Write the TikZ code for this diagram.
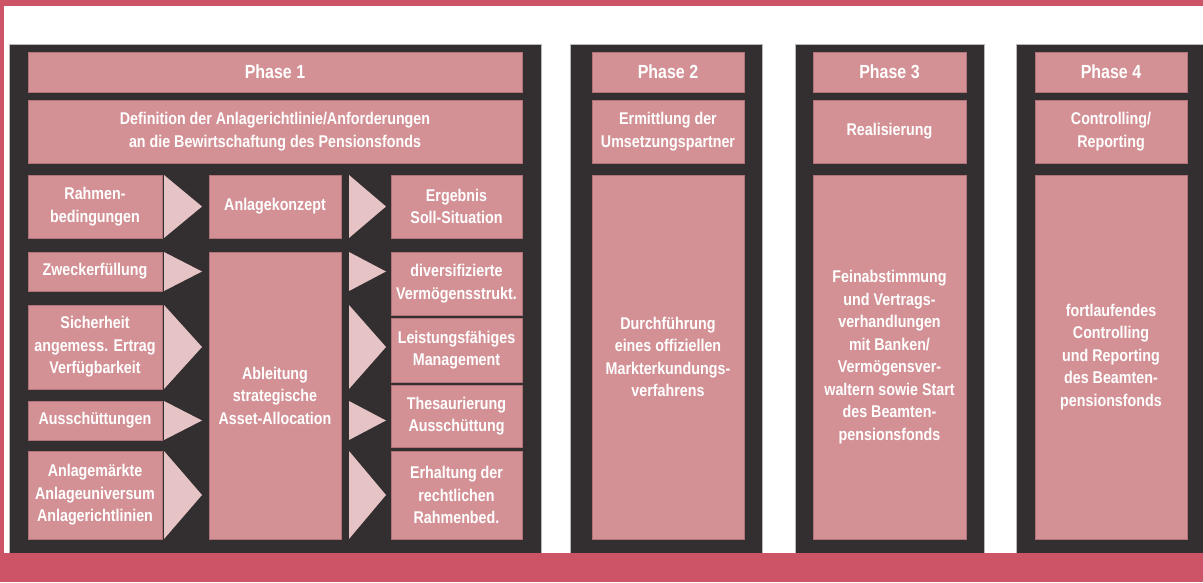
\documentclass[tikz,border=0pt]{standalone}
\usepackage{fontspec}
\setmainfont{Liberation Sans}[FakeStretch=0.84]
\usetikzlibrary{calc}
\definecolor{band}{HTML}{CD5366}
\definecolor{panelgrey}{HTML}{332F30}
\definecolor{boxpink}{HTML}{D49195}
\definecolor{boxedge}{HTML}{B07478}
\definecolor{tippink}{HTML}{E6C4C5}
% box given by its corners: [style]{name}{x1}{y1}{x2}{y2}{text}
\newcommand{\boxat}[7][pbox]{%
  \node[#1, minimum width={(#5)-(#3)}, minimum height={(#6)-(#4)}]
    (#2) at ({((#3)+(#5))/2},{((#4)+(#6))/2}) {#7};}
% flow triangle beside a row node, between two vertical guides
\newcommand{\flowtip}[3]{%
  \fill[tipfill] (#1.north -| #2) -- (#1.east -| #3) -- (#1.south -| #2) -- cycle;}
\begin{document}
\begin{tikzpicture}[x=1pt,y=-1pt,
  panel/.style={fill=panelgrey, draw=gray!55, line width=0.6pt, inner sep=0pt, outer sep=0pt},
  pbox/.style={fill=boxpink, draw=boxedge, line width=0.7pt, text=white,
    font=\bfseries\fontsize{17}{22.5}\selectfont, align=center, inner sep=0pt, outer sep=0pt},
  headbox/.style={pbox, font=\bfseries\fontsize{19}{22.5}\selectfont},
  tipfill/.style={fill=tippink}]
\useasboundingbox (0,0) rectangle (1203,582);
\fill[white] (0,0) rectangle (1203,582);

% phase panels
\boxat[panel]{p1}{9}{44}{541}{560}{}
\boxat[panel]{p2}{570}{44}{762}{560}{}
\boxat[panel]{p3}{795}{44}{984}{560}{}
\boxat[panel]{p4}{1016}{44}{1210}{560}{}

% frame bands
\fill[band] (0,0) rectangle (1203,6);
\fill[band] (0,0) rectangle (4,582);
\fill[band] (0,553) rectangle (1203,582);

% phase 1
\boxat[headbox]{h1}{28}{52}{522}{92}{Phase 1}
\boxat{d1}{28}{100}{522}{163}{Definition der Anlagerichtlinie/Anforderungen\\an die Bewirtschaftung des Pensionsfonds}

\boxat{r1}{28}{175}{162}{238}{Rahmen-\\bedingungen}
\boxat{r2}{28}{252}{162}{291}{Zweckerfüllung}
\boxat{r3}{28}{305}{162}{389}{Sicherheit\\angemess. Ertrag\\Verfügbarkeit}
\boxat{r4}{28}{401}{162}{440}{Ausschüttungen}
\boxat{r5}{28}{451}{162}{539}{Anlagemärkte\\Anlageuniversum\\Anlagerichtlinien}

\boxat{m1}{209}{175}{341}{238}{Anlagekonzept}
\boxat{m2}{209}{252}{341}{539}{Ableitung\\strategische\\Asset-Allocation}

\boxat{e1}{391}{175}{522}{238}{Ergebnis\\Soll-Situation}
\boxat{e2}{391}{252}{522}{315}{diversifizierte\\Vermögensstrukt.}
\boxat{e3}{391}{318}{522}{382}{Leistungsfähiges\\Management}
\boxat{e4}{391}{385}{522}{447}{Thesaurierung\\Ausschüttung}
\boxat{e5}{391}{451}{522}{539}{Erhaltung der\\rechtlichen\\Rahmenbed.}

% guides for the flow triangles
\coordinate (la) at (164,0);
\coordinate (lb) at (202,0);
\coordinate (ra) at (349,0);
\coordinate (rb) at (386,0);
\foreach \r in {r1,r2,r3,r4,r5}{
  \flowtip{\r}{la}{lb}
  \flowtip{\r}{ra}{rb}
}

% phase 2
\boxat[headbox]{h2}{592}{52}{744}{92}{Phase 2}
\boxat{s2}{592}{100}{744}{163}{Ermittlung der\\Umsetzungspartner}
\boxat{t2}{592}{175}{744}{539}{Durchführung\\eines offiziellen\\Markterkundungs-\\verfahrens}

% phase 3
\boxat[headbox]{h3}{813}{52}{966}{92}{Phase 3}
\boxat{s3}{813}{100}{966}{163}{Realisierung}
\boxat{t3}{813}{175}{966}{539}{Feinabstimmung\\und Vertrags-\\verhandlungen\\mit Banken/\\Vermögensver-\\waltern sowie Start\\des Beamten-\\pensionsfonds}

% phase 4
\boxat[headbox]{h4}{1035}{52}{1187}{92}{Phase 4}
\boxat{s4}{1035}{100}{1187}{163}{Controlling/\\Reporting}
\boxat{t4}{1035}{175}{1187}{539}{fortlaufendes\\Controlling\\und Reporting\\des Beamten-\\pensionsfonds}
\end{tikzpicture}
\end{document}
